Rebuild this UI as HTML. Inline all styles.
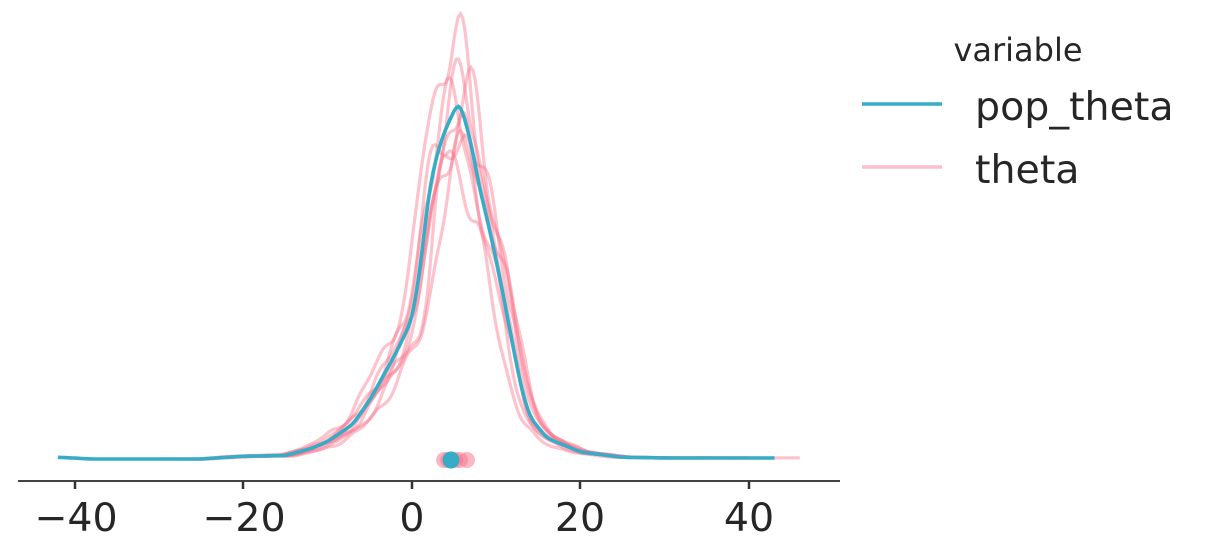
<!DOCTYPE html>
<html><head><meta charset="utf-8"><style>
body{margin:0;background:#fff;}
svg{display:block;font-family:"DejaVu Sans","Liberation Sans",sans-serif;}
</style></head><body>
<svg id="s" width="1211" height="559" xmlns="http://www.w3.org/2000/svg">
<line x1="18" y1="481" x2="840" y2="481" stroke="#444" stroke-width="2"/>
<g stroke="#333" stroke-width="2.5">
<line x1="75" y1="481" x2="75" y2="489"/><line x1="243" y1="481" x2="243" y2="489"/><line x1="412" y1="481" x2="412" y2="489"/><line x1="580" y1="481" x2="580" y2="489"/><line x1="749" y1="481" x2="749" y2="489"/>
</g>
<g font-size="39.5" fill="#262626" text-anchor="middle">
<text x="76" y="531">−40</text><text x="244" y="531">−20</text><text x="412" y="531">0</text><text x="580" y="531">20</text><text x="749" y="531">40</text>
</g>
<g id="th" fill="none" stroke="#f77189" stroke-opacity="0.42" stroke-width="3.2"></g>
<path id="pop" fill="none" stroke="#36acc6" stroke-width="3.6"/>
<g fill="#f77189" fill-opacity="0.5">
<circle cx="444" cy="460" r="8"/><circle cx="448" cy="460" r="8"/><circle cx="455" cy="460" r="8"/><circle cx="460" cy="460" r="8"/><circle cx="467" cy="460" r="8"/>
</g>
<circle cx="451" cy="460" r="8.5" fill="#36acc6"/>
<text x="1018" y="61" font-size="32" fill="#262626" text-anchor="middle">variable</text>
<line x1="862" y1="104" x2="942" y2="104" stroke="#36acc6" stroke-width="3.5"/>
<text x="975" y="120" font-size="39.5" fill="#262626">pop_theta</text>
<line x1="862" y1="167" x2="942" y2="167" stroke="#f77189" stroke-opacity="0.45" stroke-width="3.5"/>
<text x="975" y="183" font-size="39.5" fill="#262626">theta</text>
</svg>
<script>
var P=[[-42,0.005],[-38,0],[-25,0],[-20,0.008],[-15,0.01],[-12,0.03],[-10,0.05],[-7,0.1],[-5,0.17],[-2,0.3],[0,0.4],[1,0.55],[2,0.77],[3,0.88],[4,0.95],[5,1.0],[5.5,1.03],[6,1.0],[7,0.91],[8,0.78],[9,0.68],[10,0.57],[11,0.45],[12,0.32],[13,0.2],[14,0.12],[16,0.06],[18,0.04],[20,0.02],[25,0.005],[30,0.003],[43,0.003]];
function f0(x){if(x<=P[0][0])return P[0][1];for(var i=1;i<P.length;i++){if(x<=P[i][0]){var a=P[i-1],b=P[i],t=(x-a[0])/(b[0]-a[0]);return a[1]+(b[1]-a[1])*t;}}return P[P.length-1][1];}
function f(x){var s=0,w=0;for(var k=-8;k<=8;k++){var ww=Math.exp(-k*k/18);s+=ww*f0(x+k*0.12);w+=ww;}return s/w;}
function X(v){return 412+v*8.43;}function Y(h){return 459-h*348;}
var d="";for(var x=-42;x<=43;x+=0.25){d+=(d?"L":"M")+X(x).toFixed(1)+" "+Y(f(x)).toFixed(1);}
document.getElementById("pop").setAttribute("d",d);
var g=document.getElementById("th");
var cfg=[[-0.5,1.2,-30,40,1],[0.5,1.05,-28,46,2],[-0.5,1.0,-25,30,3],[1,0.95,-22,35,4],[-1,0.9,-20,25,5],[0.8,1.05,-27,38,6],[0,0.92,-24,33,7],[1.2,0.88,-20,28,8]];
cfg.forEach(function(c){var s="";var r=c[4];for(var x=c[2];x<=c[3];x+=0.25){var h=f(x-c[0])*c[1];h*=1+0.07*Math.sin(x*1.1+r)+0.04*Math.sin(x*2.0+r*2);if(h<0)h=0;s+=(s?"L":"M")+X(x).toFixed(1)+" "+Y(h).toFixed(1);}
var p=document.createElementNS("http://www.w3.org/2000/svg","path");p.setAttribute("d",s);g.appendChild(p);});
</script>
</body></html>
